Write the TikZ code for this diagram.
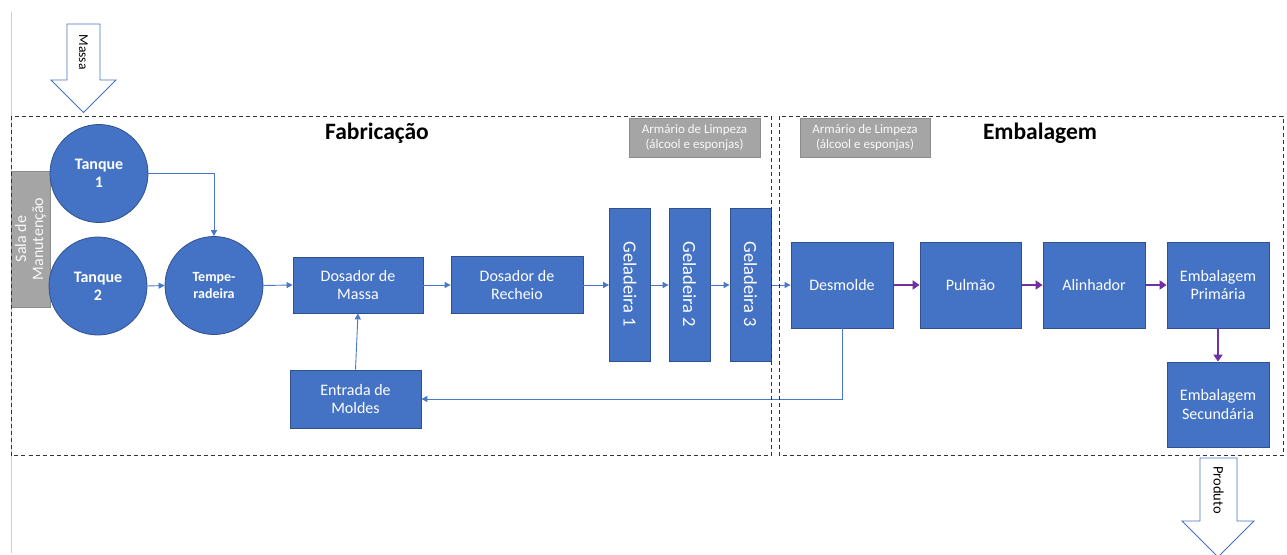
\documentclass[tikz,border=0pt]{standalone}
\usepackage{fontspec}
\setmainfont{Carlito}
\usetikzlibrary{arrows.meta}
\definecolor{procblue}{HTML}{4472C4}
\definecolor{procedge}{HTML}{2F528F}
\definecolor{roomgray}{HTML}{A5A5A5}
\definecolor{roomedge}{HTML}{8C8C8C}
\definecolor{packviolet}{HTML}{7030A0}
\definecolor{linkblue}{HTML}{4A78C8}
\begin{document}
\begin{tikzpicture}[x=1pt,y=-1pt,
  proc/.style={draw=procedge,line width=0.8pt,fill=procblue,text=white,align=center,
    font=\fontsize{16}{18.5}\selectfont,inner sep=0pt},
  tank/.style={circle,draw=procedge,line width=0.8pt,fill=procblue,text=white,align=center,
    inner sep=0pt,minimum size=98pt},
  fridge/.style={proc,minimum width=41pt,minimum height=153pt},
  room/.style={draw=roomedge,line width=0.8pt,fill=roomgray,text=white!95!gray,align=center,inner sep=0pt},
  zone/.style={draw=black!80,line width=0.9pt,dash pattern=on 4pt off 3pt},
  flow/.style={draw=linkblue,line width=0.9pt,-{Triangle[length=6pt,width=6pt]}},
  pack/.style={draw=packviolet,line width=2.8pt,-{Triangle[length=7pt,width=9pt]}},
  bigarrow/.style={draw=procblue,line width=0.8pt,fill=white},
  title/.style={font=\fontsize{23.5}{26}\selectfont\bfseries,text=black}
]
\useasboundingbox (0,0) rectangle (1287,554);
\fill[white] (0,0) rectangle (1287,554);

% left margin rule
\draw[black!20,line width=1pt] (11,12) -- (11,553);

% material in / product out
\draw[bigarrow] (67,24) -- (100,24) -- (100,80) -- (116,80) -- (83.5,112.5)
  -- (51,80) -- (67,80) -- cycle;
\node[rotate=-90,font=\fontsize{13.5}{15}\selectfont] (massa) at (83.5,52) {Massa};
\draw[bigarrow] (1200,458) -- (1237,458) -- (1237,521) -- (1254,521) -- (1218,557)
  -- (1182,521) -- (1200,521) -- cycle;
\node[rotate=-90,font=\fontsize{14.5}{16}\selectfont] (produto) at (1218.5,490) {Produto};

% rooms and cabinets
\node[room,minimum width=39pt,minimum height=136pt] (sala) at (30.5,239) {};
\node[rotate=90,text=white!95!gray,align=center,font=\fontsize{16}{17}\selectfont]
  (salatxt) at (30.5,239) {Sala de\\Manutenção};
\node[room,minimum width=131pt,minimum height=39pt,font=\fontsize{13}{15}\selectfont]
  (arm1) at (694.5,137.5) {Armário de Limpeza\\(álcool e esponjas)};
\node[room,minimum width=130pt,minimum height=39pt,font=\fontsize{13}{15}\selectfont]
  (arm2) at (865,137.5) {Armário de Limpeza\\(álcool e esponjas)};

% tanks
\node[tank,font=\fontsize{16}{18}\selectfont\bfseries] (t1) at (99,173.5) {Tanque\\1};
\node[tank,font=\fontsize{16}{18}\selectfont\bfseries] (t2) at (98,286) {Tanque\\2};
\node[tank,font=\fontsize{14}{17}\selectfont\bfseries] (temp) at (214,285.5) {Tempe-\\radeira};

% fabrication line
\node[proc,minimum width=130pt,minimum height=56pt] (dmassa) at (358,285) {Dosador de\\Massa};
\node[proc,minimum width=131pt,minimum height=58pt] (moldes) at (355.5,399) {Entrada de\\Moldes};
\node[proc,minimum width=132pt,minimum height=57pt] (drech) at (517,285) {Dosador de\\Recheio};
\node[fridge] (g1) at (630,284.5) {};
\node[fridge] (g2) at (689.5,284.5) {};
\node[fridge] (g3) at (750.5,284.5) {};
\foreach \g/\n in {g1/1,g2/2,g3/3}
  \node[rotate=-90,text=white,font=\fontsize{18.5}{20}\selectfont] at (\g) {Geladeira \n};

% packaging line
\node[proc,minimum width=102pt,minimum height=86pt] (desm) at (842,285) {Desmolde};
\node[proc,minimum width=101pt,minimum height=86pt] (pulm) at (970.5,285) {Pulmão};
\node[proc,minimum width=102pt,minimum height=86pt] (alin) at (1094,285) {Alinhador};
\node[proc,minimum width=102pt,minimum height=86pt] (emb1) at (1218,285) {Embalagem\\Primária};
\node[proc,minimum width=102pt,minimum height=85pt] (emb2) at (1218,404.5) {Embalagem\\Secundária};

% blue connectors
\draw[flow] (t1.east) -| (temp.north);
\draw[flow] (t2.east) -- (temp.west);
\draw[flow] (temp.east) -- (dmassa.west);
\draw[flow] (moldes.north) -- (dmassa.south);
\draw[flow] (dmassa.east) -- (drech.west);
\draw[flow] (drech.east) -- (g1.west |- drech.east);
\draw[flow] (g1.east |- drech.east) -- (g2.west |- drech.east);
\draw[flow] (g2.east |- drech.east) -- (g3.west |- drech.east);
\draw[flow] (g3.east |- desm.west) -- (desm.west);
\draw[flow] (desm.south) |- (moldes.east);

% violet connectors
\draw[pack] (desm.east) -- (pulm.west);
\draw[pack] (pulm.east) -- (alin.west);
\draw[pack] (alin.east) -- (emb1.west);
\draw[pack] (emb1.south) -- (emb2.north);

% zones
\draw[zone] (11,116) rectangle (771,455.5);
\draw[zone] (779,116) rectangle (1283,455.5);
\node[title] (fab) at (377,133) {Fabricação};
\node[title] (emb) at (1040,133) {Embalagem};
\end{tikzpicture}
\end{document}
